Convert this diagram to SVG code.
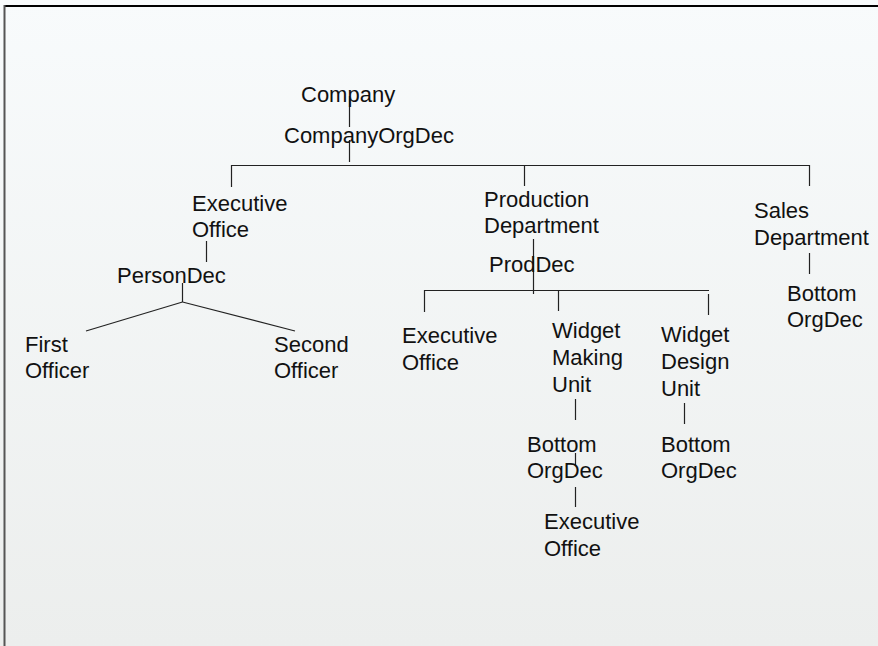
<svg xmlns="http://www.w3.org/2000/svg" width="878" height="646" viewBox="0 0 878 646">
<defs>
<linearGradient id="bg" x1="0" y1="0" x2="0" y2="1">
<stop offset="0" stop-color="#f8fbfc"/>
<stop offset="1" stop-color="#eceeed"/>
</linearGradient>
<style>
text{font-family:"Liberation Sans",Arial,sans-serif;font-size:22px;fill:#111}
.c line{stroke:#222;stroke-width:1.2}
</style>
</defs>
<rect x="0" y="0" width="878" height="646" fill="url(#bg)"/>
<line x1="4" y1="6" x2="878" y2="6" stroke="#000" stroke-width="2"/>
<line x1="4.5" y1="5" x2="4.5" y2="646" stroke="#555" stroke-width="2"/>
<g class="c" id="connectors">
<line x1="349.5" y1="96" x2="349.5" y2="127"/>
<line x1="349.5" y1="140" x2="349.5" y2="162"/>
<line x1="231" y1="165.5" x2="810" y2="165.5"/>
<line x1="231.5" y1="165" x2="231.5" y2="187"/>
<line x1="524.5" y1="165" x2="524.5" y2="186"/>
<line x1="809.5" y1="165" x2="809.5" y2="186"/>
<line x1="206.5" y1="241" x2="206.5" y2="262"/>
<line x1="182.5" y1="283" x2="182.5" y2="302"/>
<line x1="182.5" y1="302" x2="86" y2="331"/>
<line x1="182.5" y1="302" x2="295" y2="331"/>
<line x1="533.5" y1="239" x2="533.5" y2="294"/>
<line x1="424" y1="290.5" x2="709" y2="290.5"/>
<line x1="424.5" y1="290" x2="424.5" y2="312"/>
<line x1="558.5" y1="290" x2="558.5" y2="311"/>
<line x1="708.5" y1="294" x2="708.5" y2="315"/>
<line x1="575.5" y1="399" x2="575.5" y2="420"/>
<line x1="575.5" y1="453" x2="575.5" y2="465"/>
<line x1="575.5" y1="487" x2="575.5" y2="507"/>
<line x1="684.5" y1="403" x2="684.5" y2="424"/>
<line x1="809.5" y1="253" x2="809.5" y2="274"/>
</g>
<g id="company"><text x="301" y="102">Company</text></g>
<g id="companyorgdec"><text x="284" y="143">CompanyOrgDec</text></g>
<g id="exec1"><text x="192" y="211">Executive</text><text x="192" y="237">Office</text></g>
<g id="persondec"><text x="117" y="283">PersonDec</text></g>
<g id="first"><text x="25" y="352">First</text><text x="25" y="378">Officer</text></g>
<g id="second"><text x="274" y="352">Second</text><text x="274" y="378">Officer</text></g>
<g id="prod"><text x="484" y="207">Production</text><text x="484" y="233">Department</text></g>
<g id="proddec"><text x="489" y="272">ProdDec</text></g>
<g id="exec2"><text x="402" y="343">Executive</text><text x="402" y="370">Office</text></g>
<g id="wmu"><text x="552" y="338">Widget</text><text x="552" y="365">Making</text><text x="552" y="392">Unit</text></g>
<g id="wdu"><text x="661" y="342">Widget</text><text x="661" y="369">Design</text><text x="661" y="396">Unit</text></g>
<g id="bod1"><text x="527" y="452">Bottom</text><text x="527" y="478">OrgDec</text></g>
<g id="exec3"><text x="544" y="529">Executive</text><text x="544" y="556">Office</text></g>
<g id="bod2"><text x="661" y="452">Bottom</text><text x="661" y="478">OrgDec</text></g>
<g id="sales"><text x="754" y="218">Sales</text><text x="754" y="245">Department</text></g>
<g id="bod3"><text x="787" y="301">Bottom</text><text x="787" y="327">OrgDec</text></g>
</svg>
